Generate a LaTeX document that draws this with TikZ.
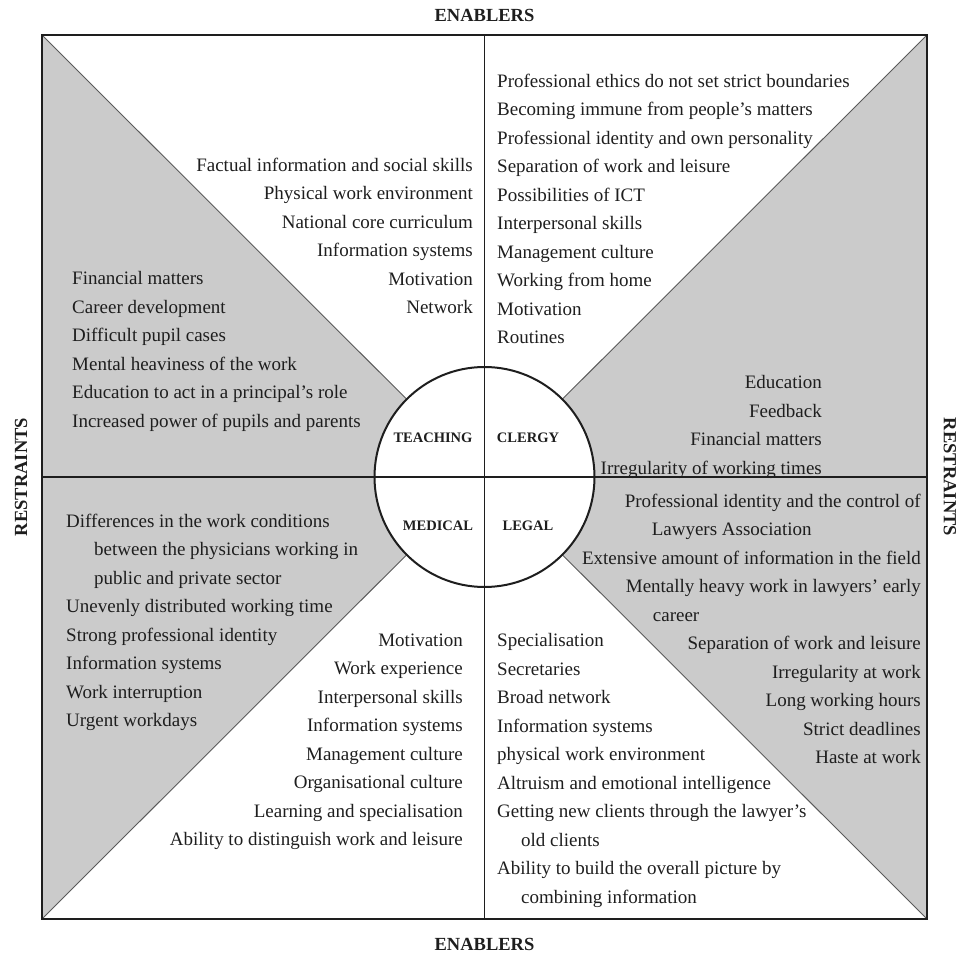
\documentclass[tikz,border=0pt]{standalone}
\usepackage{fontspec}
\setmainfont{Liberation Serif}
\usetikzlibrary{positioning}
\definecolor{panelgray}{HTML}{CBCBCB}
\definecolor{ink}{HTML}{1E1E1E}
\definecolor{edge}{HTML}{5A5A5A}

% continuation line of an item, set in from the start of its first line
\newlength\firstw
\newcommand\hangline[2]{\settowidth{\firstw}{#1}\addtolength{\firstw}{-27pt}\makebox[\firstw][l]{#2}}

\begin{document}
\begin{tikzpicture}[
  x=1pt, y=-1pt,
  frameline/.style={ink, line width=2.8pt},
  crossline/.style={ink, line width=1.9pt},
  diag/.style={edge, line width=0.9pt},
  hubstyle/.style={circle, draw=ink, line width=2pt, fill=white, minimum size=220pt, inner sep=0pt},
  sector/.style={font=\fontsize{14.5}{16}\selectfont\bfseries, text=ink, inner sep=0pt},
  side/.style={font=\fontsize{18.5}{20}\selectfont\bfseries, text=ink, inner sep=0pt},
  items/.style={font=\fontsize{19}{28.5}\selectfont, text=ink, inner sep=0pt, align=#1},
]
\useasboundingbox (0,0) rectangle (962,957);

% Frame and the two shaded triangles
\node[minimum width=885pt, minimum height=884pt, inner sep=0pt, outer sep=0pt] (frame) at (484.5,477) {};

\fill[panelgray] (frame.north west) -- (frame.center) -- (frame.south west) -- cycle;
\fill[panelgray] (frame.north east) -- (frame.center) -- (frame.south east) -- cycle;
\draw[diag] (frame.north west) -- (frame.center);
\draw[diag] (frame.south west) -- (frame.center);
\draw[diag] (frame.north east) -- (frame.center);
\draw[diag] (frame.south east) -- (frame.center);
\draw[frameline] (frame.north west) rectangle (frame.south east);

% Hub with the four fields
\node[hubstyle] (hub) at (frame.center) {};
\draw[crossline] (frame.north) -- (frame.south);
\draw[crossline] (frame.west) -- (frame.east);

\node[sector] (teaching) at (433,438) {TEACHING};
\node[sector] (clergy) at (528,438) {CLERGY};
\node[sector] (medical) at (438,526) {MEDICAL};
\node[sector] (legal) at (528,526) {LEGAL};

% Side labels
\node[side, above=13pt of frame.north] (entop) {ENABLERS};
\node[side, below=19pt of frame.south] (enbot) {ENABLERS};
\node[side, rotate=90] (releft) at (21,477) {RESTRAINTS};
\node[side, rotate=-90] (reright) at (950,477) {RESTRAINTS};

% === Teaching ===
\node[items=right, anchor=north east] (teachen) at (473,157.5)
  {Factual information and social skills\\
   Physical work environment\\
   National core curriculum\\
   Information systems\\
   Motivation\\
   Network};
\node[items=left, anchor=north west] (teachre) at (72,271.5)
  {Financial matters\\
   Career development\\
   Difficult pupil cases\\
   Mental heaviness of the work\\
   Education to act in a principal's role\\
   Increased power of pupils and parents};

% === Clergy ===
\node[items=left, anchor=north west] (clergen) at (497,73.5)
  {Professional ethics do not set strict boundaries\\
   Becoming immune from people's matters\\
   Professional identity and own personality\\
   Separation of work and leisure\\
   Possibilities of ICT\\
   Interpersonal skills\\
   Management culture\\
   Working from home\\
   Motivation\\
   Routines};
\node[items=right, anchor=north east] (clergre) at (822,375.5)
  {Education\\
   Feedback\\
   Financial matters\\
   Irregularity of working times};

% === Medical ===
\node[items=left, anchor=north west] (medre) at (66,513.5)
  {Differences in the work conditions\\
   \hspace*{28pt}between the physicians working in\\
   \hspace*{28pt}public and private sector\\
   Unevenly distributed working time\\
   Strong professional identity\\
   Information systems\\
   Work interruption\\
   Urgent workdays};
\node[items=right, anchor=north east] (meden) at (463,633.5)
  {Motivation\\
   Work experience\\
   Interpersonal skills\\
   Information systems\\
   Management culture\\
   Organisational culture\\
   Learning and specialisation\\
   Ability to distinguish work and leisure};

% === Legal ===
\node[items=right, anchor=north east] (legre) at (921,493.5)
  {Professional identity and the control of\\
   \hangline{Professional identity and the control of}{Lawyers Association}\\
   Extensive amount of information in the field\\
   Mentally heavy work in lawyers' early\\
   \hangline{Mentally heavy work in lawyers' early}{career}\\
   Separation of work and leisure\\
   Irregularity at work\\
   Long working hours\\
   Strict deadlines\\
   Haste at work};
\node[items=left, anchor=north west] (legen) at (497,633.5)
  {Specialisation\\
   Secretaries\\
   Broad network\\
   Information systems\\
   physical work environment\\
   Altruism and emotional intelligence\\
   Getting new clients through the lawyer's\\
   \hspace*{24pt}old clients\\
   Ability to build the overall picture by\\
   \hspace*{24pt}combining information};

\end{tikzpicture}
\end{document}
